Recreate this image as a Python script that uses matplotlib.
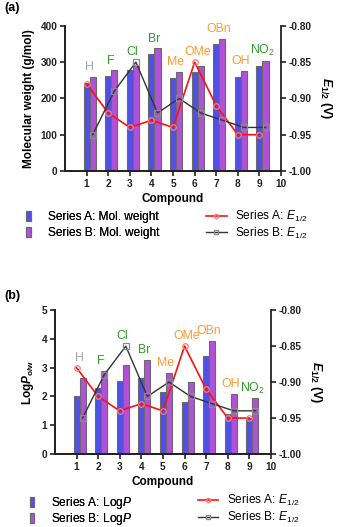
import numpy as np
import matplotlib
matplotlib.use('Agg')
import matplotlib.pyplot as plt
from matplotlib.lines import Line2D
from matplotlib.patches import Patch

plt.rcParams['font.family'] = ['Liberation Sans', 'DejaVu Sans']
plt.rcParams['mathtext.fontset'] = 'custom'
plt.rcParams['mathtext.rm'] = 'Liberation Sans'
plt.rcParams['mathtext.it'] = 'Liberation Sans:italic'
plt.rcParams['mathtext.bf'] = 'Liberation Sans:bold'
plt.rcParams['mathtext.bfit'] = 'Liberation Sans:italic:bold'

# data
compounds = [1, 2, 3, 4, 5, 6, 7, 8, 9]
subst = ['H', 'F', 'Cl', 'Br', 'Me', 'OMe', 'OBn', 'OH', 'NO$_2$']
subst_col = ['#a6a6a6', '#2f9a2f', '#2f9a2f', '#2f9a2f', '#ff9a30',
             '#ff9a30', '#ff9a30', '#ff9a30', '#2f9a2f']

mw_a = [243, 261, 277, 322, 257, 272, 349, 259, 288]
mw_b = [259, 277, 293, 338, 273, 288, 365, 275, 304]
logp_a = [2.0, 2.31, 2.52, 2.63, 2.15, 1.81, 3.42, 1.40, 1.26]
logp_b = [2.65, 2.88, 3.11, 3.27, 2.81, 2.51, 3.92, 2.08, 1.95]
e_a = [-0.88, -0.92, -0.94, -0.93, -0.94, -0.85, -0.91, -0.95, -0.95]
e_b = [-0.95, -0.89, -0.85, -0.92, -0.90, -0.92, -0.93, -0.94, -0.94]

blue = '#5050e8'
purple = '#b150d8'
edge = '#6a6a6a'
bw = 0.28
off = 0.28


def panel(ax, ya, yb, ymax, ystep, ylab, leg_a, leg_b, leg_pos, bar_sp):
    x = np.array(compounds, dtype=float)
    ax.bar(x, ya, bw, color=blue, edgecolor=edge, lw=0.8, zorder=2)
    ax.bar(x + off, yb, bw, color=purple, edgecolor=edge, lw=0.8, zorder=2)
    ax.set_xlim(0, 10)
    ax.set_ylim(0, ymax)
    ax.set_xticks(range(1, 11))
    ax.set_yticks(np.arange(0, ymax + ystep / 2, ystep))
    ax.set_xlabel('Compound', fontsize=8.5, fontweight='bold', labelpad=3)
    ax.set_ylabel(ylab, fontsize=8.5, fontweight='bold', labelpad=4)

    ax2 = ax.twinx()
    ax2.plot(x, e_a, color='#ff1010', lw=1.2, marker='o', ms=4,
             mfc='none', mec='#ff7a7a', mew=0.9, zorder=3)
    ax2.plot(x + off, e_b, color='#353535', lw=1.0, marker='s', ms=4,
             mfc='none', mec='#8a8a8a', mew=0.9, zorder=3)
    ax2.set_ylim(-1.0, -0.8)
    ax2.set_yticks([-1.0, -0.95, -0.9, -0.85, -0.8])
    ax2.set_yticklabels(['%.2f' % v for v in [-1.0, -0.95, -0.9, -0.85, -0.8]])
    ax2.set_ylabel(r'$\mathbfit{E}_{\mathbf{1/2}}$ (V)', fontsize=9,
                   fontweight='bold', rotation=270, labelpad=16)

    for a in (ax, ax2):
        a.spines['top'].set_visible(False)
        for s in ('left', 'right', 'bottom'):
            a.spines[s].set_linewidth(1.3)
            a.spines[s].set_color('#222222')
        a.tick_params(width=1.2, length=3.5, labelsize=7.3, colors='#222222', pad=2)
        for t in a.get_xticklabels() + a.get_yticklabels():
            t.set_fontweight('bold')
    ax.spines['right'].set_visible(False)

    # substituent labels above each pair
    for i, xi in enumerate(x):
        top = max(ya[i], yb[i], (e_a[i] + 1) / 0.2 * ymax, (e_b[i] + 1) / 0.2 * ymax)
        ax.annotate(subst[i], (xi + 0.12, top), xytext=(0, 7),
                    textcoords='offset points', ha='center', va='center',
                    fontsize=8.8, color=subst_col[i], zorder=5)

    fig = ax.figure
    h_bar = [Patch(fc=blue, ec=edge, lw=0.8), Patch(fc=purple, ec=edge, lw=0.8)]
    l1 = fig.legend(h_bar, [leg_a, leg_b], loc='upper left',
                    bbox_to_anchor=leg_pos[0], frameon=False, fontsize=8.6,
                    handlelength=0.4, handleheight=0.9, handletextpad=1.4,
                    labelspacing=bar_sp, borderpad=0, borderaxespad=0)
    h_line = [Line2D([], [], color='#ff1010', lw=1.2, marker='o', ms=3,
                     mfc='none', mec='#ff7a7a'),
              Line2D([], [], color='#353535', lw=1.0, marker='s', ms=3,
                     mfc='none', mec='#8a8a8a')]
    fig.legend(h_line, [r'Series A: $\mathit{E}_{\mathrm{1/2}}$',
                        r'Series B: $\mathit{E}_{\mathrm{1/2}}$'],
               loc='upper left', bbox_to_anchor=leg_pos[1], frameon=False,
               fontsize=8.6, handlelength=1.7, handletextpad=0.7,
               labelspacing=0.15, borderpad=0, borderaxespad=0)
    fig.add_artist(l1)


fig = plt.figure(figsize=(3.37, 5.27), dpi=100)
ax_a = fig.add_axes([0.193, 0.6755, 0.641, 0.2755])
ax_b = fig.add_axes([0.163, 0.1385, 0.641, 0.273])

panel(ax_a, mw_a, mw_b, 400, 100, 'Molecular weight (g/mol)',
      'Series A: Mol. weight', 'Series B: Mol. weight',
      [(0.078, 0.600), (0.612, 0.604)], 0.35)
panel(ax_b, logp_a, logp_b, 5, 1, r'Log$\mathbfit{P}_{\mathbf{o/w}}$',
      r'Series A: Log$\mathit{P}$', r'Series B: Log$\mathit{P}$',
      [(0.088, 0.060), (0.588, 0.064)], 0.0)

fig.text(0.012, 0.996, '(a)', fontsize=9, fontweight='bold', va='top')
fig.text(0.012, 0.449, '(b)', fontsize=9, fontweight='bold', va='top')

fig.savefig('out.png', dpi=100)
